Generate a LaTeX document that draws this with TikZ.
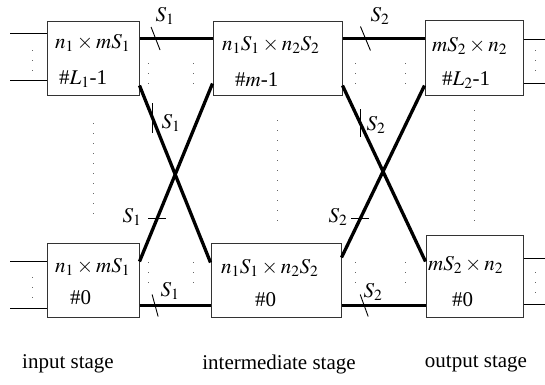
\documentclass[tikz,border=0pt]{standalone}
\usepackage{mathptmx}
\usepackage[no-math]{fontspec}
\setmainfont{Liberation Serif}
\begin{document}
\begin{tikzpicture}[x=1pt, y=-1pt,
  box/.style={draw=black!80, line width=1pt, inner sep=0pt, minimum width=#1, minimum height=74pt},
  txt/.style={inner sep=0pt, anchor=west, font=\rmfamily\fontsize{21}{25}\selectfont},
  stage/.style={inner sep=0pt, font=\rmfamily\fontsize{21}{25}\selectfont},
  bus/.style={draw=black, line width=3.3pt},
  wire/.style={draw=black, line width=1.2pt},
  tick/.style={draw=black, line width=0.9pt},
  dots/.style={draw=black!60, line width=1pt, dash pattern=on 1pt off 9pt}
]
\useasboundingbox (0,0) rectangle (545,384);

\node[box=92pt] (inT) at (93,58) {};
\node[box=92pt] (inB) at (93,280) {};
\node[box=129pt] (midT) at (277.5,58) {};
\node[box=130pt] (midB) at (276,280) {};
\node[box=98pt, minimum height=75pt] (outT) at (474,57.5) {};
\node[box=97pt, minimum height=82pt] (outB) at (474.5,276) {};

\node[txt] (inTa) at (55,43) {$n_1\times mS_1$};
\node[txt] (inTb) at (59,79) {\#$L_1$-1};
\node[txt] (inBa) at (55,267) {$n_1\times mS_1$};
\node[txt] (inBb) at (70,298) {\#0};
\node[txt] (midTa) at (222,45) {$n_1S_1\times n_2S_2$};
\node[txt] (midTb) at (235,80) {\#$m$-1};
\node[txt] (midBa) at (221,268) {$n_1S_1\times n_2S_2$};
\node[txt] (midBb) at (255,300) {\#0};
\node[txt] (outTa) at (432,46) {$mS_2\times n_2$};
\node[txt] (outTb) at (442,80) {\#$L_2$-1};
\node[txt] (outBa) at (428,265) {$mS_2\times n_2$};
\node[txt] (outBb) at (452,300) {\#0};

\draw[wire] ([yshift=-13pt]inT.north west) -- ++(-37,0);
\draw[wire] ([yshift=15pt]inT.south west) -- ++(-37,0);
\draw[wire] ([yshift=-19pt]inB.north west) -- ++(-37,0);
\draw[wire] ([yshift=9pt]inB.south west) -- ++(-37,0);
\draw[wire] ([yshift=-20pt]outT.north east) -- ++(22,0);
\draw[wire] ([yshift=12pt]outT.south east) -- ++(22,0);
\draw[wire] ([yshift=-24pt]outB.north east) -- ++(22,0);
\draw[wire] ([yshift=13pt]outB.south east) -- ++(22,0);

\draw[bus] ([yshift=-18pt]inT.north east) -- coordinate[pos=0.22] (t1) ([yshift=-18pt]midT.north west);
\draw[bus] ([yshift=12pt]inB.south east) -- coordinate[pos=0.22] (t2) ([yshift=12pt]midB.south west);
\draw[bus] ([yshift=10pt]inT.south east) -- coordinate[pos=0.185] (t3) ([yshift=-20pt]midB.north west);
\draw[bus] ([yshift=-19pt]inB.north east) -- coordinate[pos=0.24] (t4) ([yshift=12pt]midT.south west);
\draw[bus] ([yshift=-18pt]midT.north east) -- coordinate[pos=0.28] (t5) ([yshift=-19pt]outT.north west);
\draw[bus] ([yshift=12pt]midB.south east) -- coordinate[pos=0.27] (t6) ([yshift=12pt]outB.south west);
\draw[bus] ([yshift=10pt]midT.south east) -- coordinate[pos=0.215] (t7) ([yshift=-27pt]outB.north west);
\draw[bus] ([yshift=-15pt]midB.north east) -- coordinate[pos=0.225] (t8) ([yshift=10pt]outT.south west);

\draw[tick] ([shift={(-4.5,-11.5)}]t1) -- ([shift={(4.5,11.5)}]t1);
\draw[tick] ([shift={(-3,-11)}]t2) -- ([shift={(3,11)}]t2);
\draw[tick] ([shift={(0,-15)}]t3) -- ([shift={(0,15)}]t3);
\draw[tick] ([shift={(-9,0)}]t4) -- ([shift={(9,0)}]t4);
\draw[tick] ([shift={(-5,-12)}]t5) -- ([shift={(5,12)}]t5);
\draw[tick] ([shift={(-4,-11)}]t6) -- ([shift={(4,11)}]t6);
\draw[tick] ([shift={(0,-14)}]t7) -- ([shift={(0,14)}]t7);
\draw[tick] ([shift={(-9,0)}]t8) -- ([shift={(9,0)}]t8);

\node[stage] (s1a) at (165,16) {$S_1$};
\node[stage] (s1b) at (170,291) {$S_1$};
\node[stage] (s1c) at (171,123) {$S_1$};
\node[stage] (s1d) at (132,217) {$S_1$};
\node[stage] (s2a) at (380,16) {$S_2$};
\node[stage] (s2b) at (373,292) {$S_2$};
\node[stage] (s2c) at (376,125) {$S_2$};
\node[stage] (s2d) at (338,217) {$S_2$};

\draw[dots] (93,123) -- (93,222);
\draw[dots] (277,120) -- (277,227);
\draw[dots] (474,110) -- (474,227);
\draw[dots] (32,50) -- (32,72);
\draw[dots] (32,277) -- (32,300);
\draw[dots] (535,50) -- (535,74);
\draw[dots] (535,272) -- (535,296);
\foreach \x in {148,193,355,405} {
  \draw[dots] (\x,63) -- (\x,87);
  \draw[dots] (\x,262) -- (\x,285);
}

\node[stage] (lin) at (68,364) {input stage};
\node[stage] (lmid) at (279,364) {intermediate stage};
\node[stage] (lout) at (476,364) {output stage};
\end{tikzpicture}
\end{document}
